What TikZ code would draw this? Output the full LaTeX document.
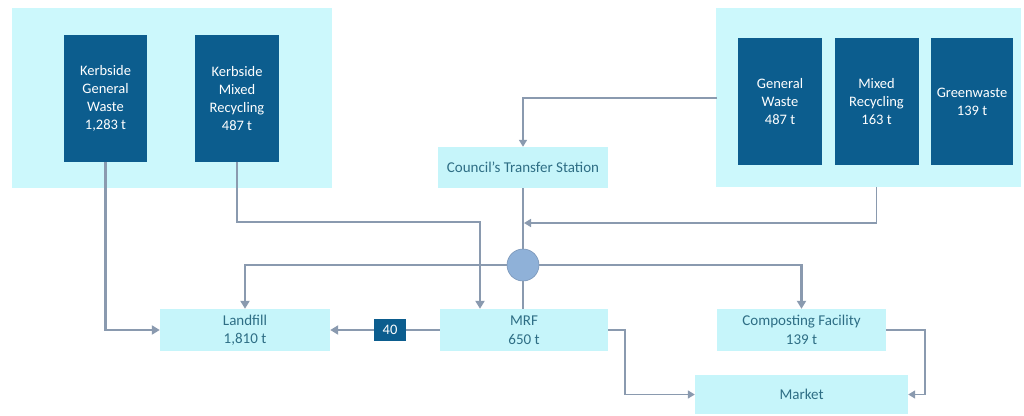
\documentclass[tikz,border=0pt]{standalone}
\usepackage{fontspec}
\setmainfont{Carlito}
\usetikzlibrary{arrows.meta}
\definecolor{panelc}{HTML}{CCF8FC}
\definecolor{lightc}{HTML}{C6F5FA}
\definecolor{darkc}{HTML}{0C5D8E}
\definecolor{linec}{HTML}{8A9AAF}
\definecolor{textc}{HTML}{2E6E85}
\definecolor{hubc}{HTML}{8FB1D8}
\tikzset{
  panel/.style={fill=panelc, draw=none, inner sep=0pt},
  darkbox/.style={fill=darkc, draw=none, text=white, align=center, inner sep=0pt, font=\fontsize{14.5pt}{18pt}\selectfont},
  lightbox/.style={fill=lightc, draw=none, text=textc, align=center, inner sep=0pt, font=\fontsize{15pt}{18.5pt}\selectfont},
  flow/.style={draw=linec, line width=2.2pt, -{Triangle[width=9pt,length=8pt]}},
  plain/.style={draw=linec, line width=2.2pt},
  thinflow/.style={draw=linec, line width=1.6pt, -{Triangle[width=8pt,length=7pt]}},
}
\begin{document}
\begin{tikzpicture}[x=1pt,y=-1pt]
\useasboundingbox[fill=white] (0,0) rectangle (1024,415);
% panels
\node[panel, minimum width=320pt, minimum height=180pt] (lpanel) at (172,98) {};
\node[panel, minimum width=305pt, minimum height=179pt] (rpanel) at (868,97.5) {};
% source boxes
\node[darkbox, minimum width=83pt, minimum height=127pt] (kgw) at (105.5,98.5) {Kerbside\\General\\Waste\\1,283 t};
\node[darkbox, minimum width=84pt, minimum height=127pt] (kmr) at (237,98.5) {Kerbside\\Mixed\\Recycling\\487 t};
\node[darkbox, minimum width=84pt, minimum height=127pt] (gw) at (780,101.5) {General\\Waste\\487 t};
\node[darkbox, minimum width=84pt, minimum height=127pt] (mr) at (876.5,101.5) {Mixed\\Recycling\\163 t};
\node[darkbox, minimum width=82pt, minimum height=127pt] (grw) at (972,101.5) {Greenwaste\\139 t};
% facilities
\node[lightbox, minimum width=170pt, minimum height=41pt] (cts) at (523,167.5) {Council's Transfer Station};
\node[lightbox, minimum width=170pt, minimum height=42pt] (landfill) at (245,330) {Landfill\\1,810 t};
\node[lightbox, minimum width=168pt, minimum height=42pt] (mrf) at (524,330) {MRF\\650 t};
\node[lightbox, minimum width=169pt, minimum height=42pt] (comp) at (801.5,330) {Composting Facility\\139 t};
\node[lightbox, minimum width=213pt, minimum height=39pt] (market) at (801.5,394.5) {Market};
% hub
\node[circle, fill=hubc, draw=hubc!85!black, line width=0.6pt, minimum size=32pt, inner sep=0pt] (hub) at (523,265) {};
% junction coordinates
\coordinate (j1) at (480,222);
\coordinate (j2) at (524,223);
\coordinate (j3) at (625,330);
\coordinate (j4) at (925,330);
\coordinate (cin) at (717,98);
% connectors
\draw[flow] (kgw.south) |- (landfill.west);
\draw[flow] (kmr.south) |- (j1) -- (j1 |- mrf.north);
\draw[thinflow] (cin) -| (cts.north);
\draw[plain] (cts.south) -- (hub.north);
\draw[thinflow] (mr.south |- rpanel.south) |- (j2);
\draw[flow] (hub.west) -| (landfill.north);
\draw[flow] (hub.east) -| (comp.north);
\draw[plain] (hub.south) -- (hub.south |- mrf.north);
\draw[flow] (mrf.west) -- (landfill.east);
\node[darkbox, minimum width=32pt, minimum height=22pt] (n40) at (390,330) {40};
\draw[thinflow] (mrf.east) -- (j3) |- (market.west);
\draw[thinflow] (comp.east) -- (j4) |- (market.east);
\end{tikzpicture}
\end{document}
